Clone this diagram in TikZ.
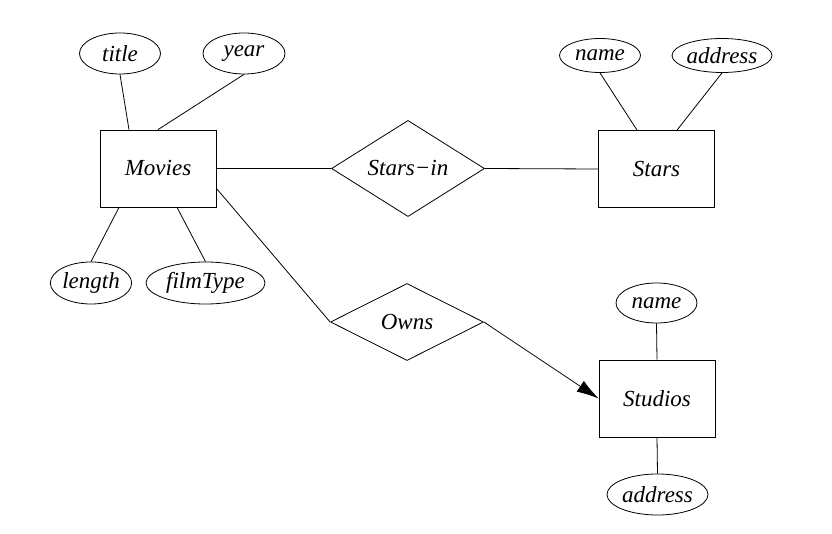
\documentclass[tikz,border=0pt]{standalone}
\usepackage{fontspec}
\setmainfont{Liberation Serif}
\usetikzlibrary{shapes.geometric,arrows.meta}
\begin{document}
\begin{tikzpicture}[x=1pt,y=-1pt,
  every node/.style={font=\fontsize{23}{26}\selectfont\itshape, inner sep=0pt, line width=0.8pt},
  entity/.style={draw, rectangle, minimum width=116pt, minimum height=77pt},
  attr/.style={draw, ellipse},
  rel/.style={draw, diamond, minimum width=153pt, minimum height=77pt},
  conn/.style={line width=0.8pt}
]
\useasboundingbox (0,0) rectangle (832,534);
% entities
\node[entity] (movies) at (158,168.5) {Movies\hspace{10pt}};
\node[entity] (stars) at (656.5,169) {Stars\hspace{10pt}};
\node[entity] (studios) at (657,398.5) {Studios\hspace{10pt}};
% relationships
\node[rel] (starsin) at (408,168.5) {Stars−in};
\node[rel] (owns) at (407,322) {Owns};
% attributes
\node[attr, minimum width=81pt, minimum height=41pt] (title) at (120,53.5) {title};
\node[attr, minimum width=82pt, minimum height=41pt] (year) at (244,53.5) {year};
\node[attr, minimum width=80pt, minimum height=42pt] (length) at (91,283) {length};
\node[attr, minimum width=119pt, minimum height=42pt] (filmtype) at (205.5,283) {filmType};
\node[attr, minimum width=81pt, minimum height=34pt] (sname) at (600,55.5) {name};
\node[attr, minimum width=97pt, minimum height=34pt] (saddr) at (722,55.5) {address};
\node[attr, minimum width=81pt, minimum height=40pt] (stname) at (656.5,303) {name};
\node[attr, minimum width=101pt, minimum height=41pt] (staddr) at (657.5,494.5) {address};
% connectors
\draw[conn] (title.south) -- ([xshift=-29pt]movies.north);
\draw[conn] (year.south) -- (movies.north);
\draw[conn] ([xshift=-39pt]movies.south) -- (length.north);
\draw[conn] ([xshift=19pt]movies.south) -- (filmtype.north);
\draw[conn] (movies.east) -- (starsin.west);
\draw[conn] (starsin.east) -- (stars.west);
\draw[conn] (sname.south) -- ([xshift=-19.5pt]stars.north);
\draw[conn] (saddr.south) -- ([xshift=20.5pt]stars.north);
\draw[conn] ([yshift=19pt]movies.south east) -- (owns.west);
\draw[conn,-{Latex[length=22pt,width=13pt]}] (owns.east) -- (studios.west);
\draw[conn] (stname.south) -- (studios.north);
\draw[conn] (studios.south) -- (staddr.north);
\end{tikzpicture}
\end{document}
